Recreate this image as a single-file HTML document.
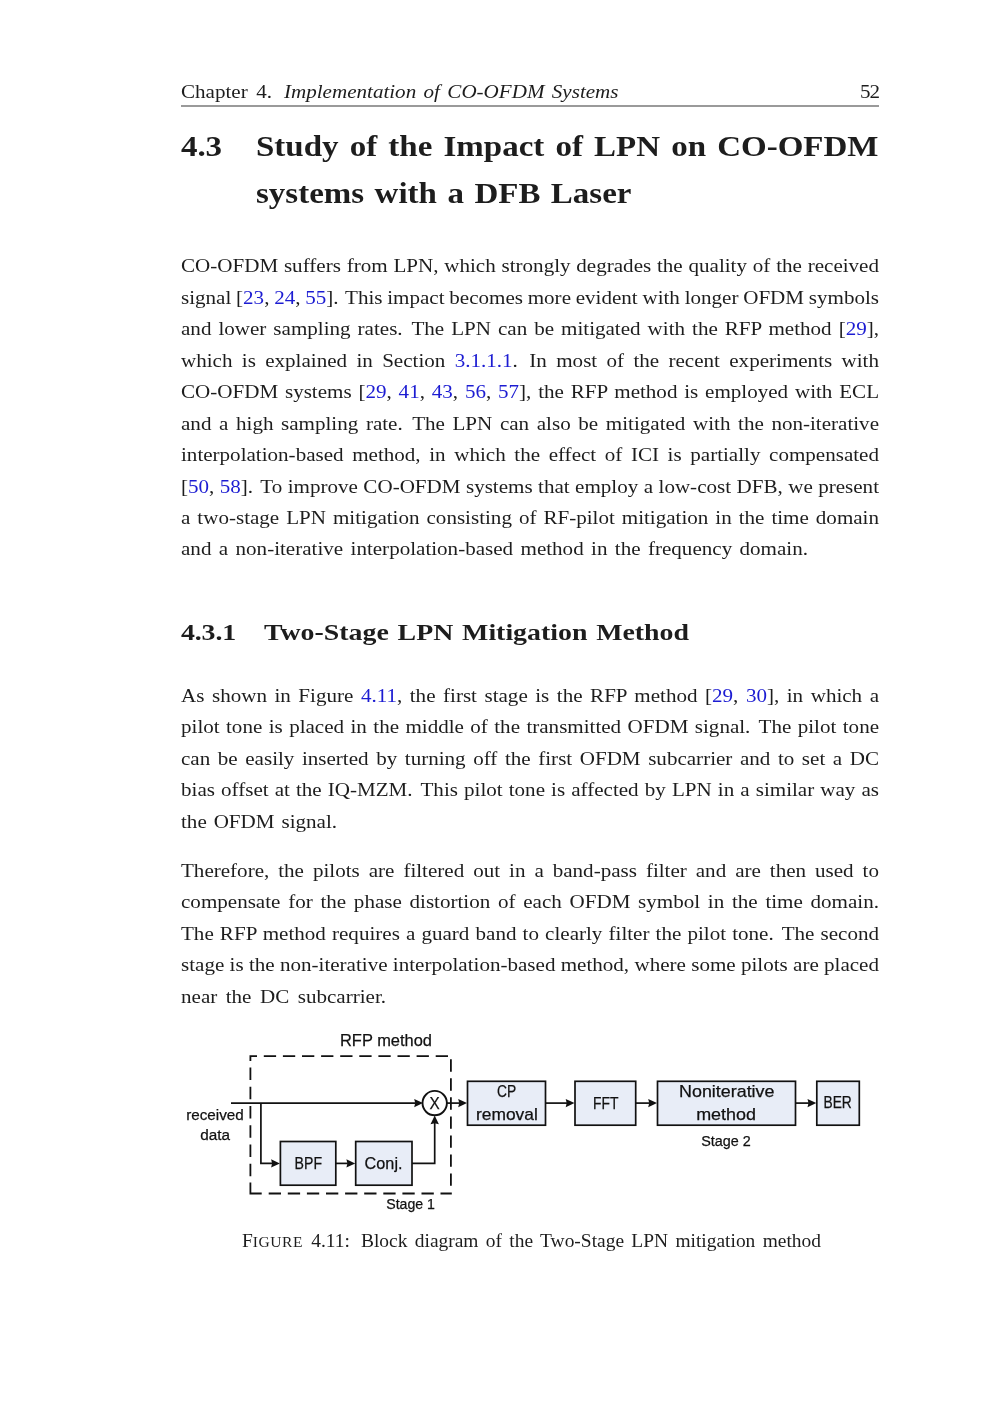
<!DOCTYPE html>
<html><head><meta charset="utf-8"><title>page 52</title>
<style>
html,body{margin:0;padding:0;background:#fff;}
body{width:1000px;height:1414px;position:relative;overflow:hidden;font-family:"Liberation Serif",serif;color:#1d1d1d;}
.l{position:absolute;white-space:nowrap;transform-origin:0 0;will-change:transform;}
.b{font-weight:bold;}
.i{font-style:italic;}
.c{color:#1c1cd2;}
.sc{font-size:0.8em;letter-spacing:0.5px;}
.s{display:inline-block;width:2px;}
.rule{position:absolute;left:181px;top:105.3px;width:698px;height:1.6px;background:#9a9a9a;}
svg{position:absolute;left:0;top:0;}
svg text{font-family:"Liberation Sans",sans-serif;fill:#111;}
</style></head><body>

<div class="l" style="top:77.92px;left:181px;font-size:19.5px;line-height:27px;height:27px;transform:scaleX(1.08);word-spacing:3.025px;">Chapter 4.</div>
<div class="l i" style="top:77.92px;left:283.5px;font-size:19.5px;line-height:27px;height:27px;transform:scaleX(1.08);word-spacing:1.965px;">Implementation of CO-OFDM Systems</div>
<div class="l" style="top:77.92px;left:860px;font-size:19.5px;line-height:27px;height:27px;transform:scaleX(1.08);letter-spacing:-0.954px;">52</div>
<div class="rule"></div>
<div class="l b" style="top:124.88px;left:181px;font-size:30.0px;line-height:42px;height:42px;transform:scaleX(1.1);letter-spacing:-0.076px;">4.3</div>
<div class="l b" style="top:124.88px;left:256px;font-size:30.0px;line-height:42px;height:42px;transform:scaleX(1.1);word-spacing:2.630px;">Study of the Impact of LPN on CO-OFDM</div>
<div class="l b" style="top:171.88px;left:256px;font-size:30.0px;line-height:42px;height:42px;transform:scaleX(1.1);word-spacing:2.013px;">systems with a DFB Laser</div>
<div class="l" style="top:252.32px;left:181px;font-size:19.5px;line-height:27px;height:27px;transform:scaleX(1.08);word-spacing:0.496px;">CO-OFDM suffers from LPN, which strongly degrades the quality of the received</div>
<div class="l" style="top:283.82px;left:181px;font-size:19.5px;line-height:27px;height:27px;transform:scaleX(1.08);word-spacing:-0.486px;">signal [<span class="c">23</span>, <span class="c">24</span>, <span class="c">55</span>].<span class="s"></span> This impact becomes more evident with longer OFDM symbols</div>
<div class="l" style="top:315.22px;left:181px;font-size:19.5px;line-height:27px;height:27px;transform:scaleX(1.08);word-spacing:1.609px;">and lower sampling rates.<span class="s"></span> The LPN can be mitigated with the RFP method [<span class="c">29</span>],</div>
<div class="l" style="top:346.72px;left:181px;font-size:19.5px;line-height:27px;height:27px;transform:scaleX(1.08);word-spacing:3.777px;">which is explained in Section <span class="c">3.1.1.1</span>.<span class="s"></span> In most of the recent experiments with</div>
<div class="l" style="top:378.12px;left:181px;font-size:19.5px;line-height:27px;height:27px;transform:scaleX(1.08);word-spacing:1.436px;">CO-OFDM systems [<span class="c">29</span>, <span class="c">41</span>, <span class="c">43</span>, <span class="c">56</span>, <span class="c">57</span>], the RFP method is employed with ECL</div>
<div class="l" style="top:409.62px;left:181px;font-size:19.5px;line-height:27px;height:27px;transform:scaleX(1.08);word-spacing:2.184px;">and a high sampling rate.<span class="s"></span> The LPN can also be mitigated with the non-iterative</div>
<div class="l" style="top:441.02px;left:181px;font-size:19.5px;line-height:27px;height:27px;transform:scaleX(1.08);word-spacing:3.097px;">interpolation-based method, in which the effect of ICI is partially compensated</div>
<div class="l" style="top:472.52px;left:181px;font-size:19.5px;line-height:27px;height:27px;transform:scaleX(1.08);word-spacing:0.169px;">[<span class="c">50</span>, <span class="c">58</span>].<span class="s"></span> To improve CO-OFDM systems that employ a low-cost DFB, we present</div>
<div class="l" style="top:503.92px;left:181px;font-size:19.5px;line-height:27px;height:27px;transform:scaleX(1.08);word-spacing:1.588px;">a two-stage LPN mitigation consisting of RF-pilot mitigation in the time domain</div>
<div class="l" style="top:535.42px;left:181px;font-size:19.5px;line-height:27px;height:27px;transform:scaleX(1.08);word-spacing:1.972px;">and a non-iterative interpolation-based method in the frequency domain.</div>
<div class="l b" style="top:614.90px;left:181px;font-size:24.0px;line-height:34px;height:34px;transform:scaleX(1.16);letter-spacing:-0.117px;">4.3.1</div>
<div class="l b" style="top:614.90px;left:264px;font-size:24.0px;line-height:34px;height:34px;transform:scaleX(1.16);word-spacing:1.616px;">Two-Stage LPN Mitigation Method</div>
<div class="l" style="top:681.92px;left:181px;font-size:19.5px;line-height:27px;height:27px;transform:scaleX(1.08);word-spacing:2.095px;">As shown in Figure <span class="c">4.11</span>, the first stage is the RFP method [<span class="c">29</span>, <span class="c">30</span>], in which a</div>
<div class="l" style="top:713.42px;left:181px;font-size:19.5px;line-height:27px;height:27px;transform:scaleX(1.08);word-spacing:1.056px;">pilot tone is placed in the middle of the transmitted OFDM signal.<span class="s"></span> The pilot tone</div>
<div class="l" style="top:744.82px;left:181px;font-size:19.5px;line-height:27px;height:27px;transform:scaleX(1.08);word-spacing:2.134px;">can be easily inserted by turning off the first OFDM subcarrier and to set a DC</div>
<div class="l" style="top:776.32px;left:181px;font-size:19.5px;line-height:27px;height:27px;transform:scaleX(1.08);word-spacing:0.768px;">bias offset at the IQ-MZM.<span class="s"></span> This pilot tone is affected by LPN in a similar way as</div>
<div class="l" style="top:807.72px;left:181px;font-size:19.5px;line-height:27px;height:27px;transform:scaleX(1.08);word-spacing:1.535px;">the OFDM signal.</div>
<div class="l" style="top:856.92px;left:181px;font-size:19.5px;line-height:27px;height:27px;transform:scaleX(1.08);word-spacing:3.427px;">Therefore, the pilots are filtered out in a band-pass filter and are then used to</div>
<div class="l" style="top:888.42px;left:181px;font-size:19.5px;line-height:27px;height:27px;transform:scaleX(1.08);word-spacing:2.273px;">compensate for the phase distortion of each OFDM symbol in the time domain.</div>
<div class="l" style="top:919.82px;left:181px;font-size:19.5px;line-height:27px;height:27px;transform:scaleX(1.08);word-spacing:0.802px;">The RFP method requires a guard band to clearly filter the pilot tone.<span class="s"></span> The second</div>
<div class="l" style="top:951.32px;left:181px;font-size:19.5px;line-height:27px;height:27px;transform:scaleX(1.08);word-spacing:0.030px;">stage is the non-iterative interpolation-based method, where some pilots are placed</div>
<div class="l" style="top:982.72px;left:181px;font-size:19.5px;line-height:27px;height:27px;transform:scaleX(1.08);word-spacing:2.990px;">near the DC subcarrier.</div>
<div class="l" style="top:1228.52px;left:242.0px;font-size:18.0px;line-height:25px;height:25px;transform:scaleX(1.08);word-spacing:3.172px;">F<span class="sc">IGURE</span> 4.11:</div>
<div class="l" style="top:1228.52px;left:360.8px;font-size:18.0px;line-height:25px;height:25px;transform:scaleX(1.08);word-spacing:2.297px;">Block diagram of the Two-Stage LPN mitigation method</div>
<svg width="1000" height="1414" viewBox="0 0 1000 1414">
<g fill="none" stroke="#111" stroke-width="1.7">
<path d="M249.5,1056.1H257.0M263.8,1056.1H276.1M282.9,1056.1H295.2M302.0,1056.1H314.3M321.1,1056.1H333.4M340.2,1056.1H352.5M359.3,1056.1H371.6M378.4,1056.1H390.7M397.5,1056.1H409.8M416.6,1056.1H428.9M435.7,1056.1H448.0M450.9,1059.3V1071.7M450.9,1078.3V1090.7M450.9,1097.3V1109.7M450.9,1116.4V1128.8M450.9,1135.4V1147.8M450.9,1154.4V1166.8M450.9,1173.4V1185.8M450.9,1192.4V1194.4M440.5,1193.5H451.8M421.5,1193.5H433.8M402.4,1193.5H414.7M383.3,1193.5H395.6M364.2,1193.5H376.5M345.1,1193.5H357.4M326.0,1193.5H338.3M306.9,1193.5H319.2M287.8,1193.5H300.1M268.7,1193.5H281.0M249.5,1193.5H261.7M250.4,1055.2V1060.9M250.4,1067.6V1080.0M250.4,1086.8V1099.2M250.4,1106.1V1118.5M250.4,1125.3V1137.8M250.4,1144.6V1157.0M250.4,1163.8V1176.2M250.4,1182.6V1194.4" stroke-width="1.8"/>
<g fill="#e8edf7">
<rect x="280.4" y="1141.5" width="55.4" height="43.7"/>
<rect x="355.7" y="1141.5" width="56.3" height="43.7"/>
<rect x="467.5" y="1081.3" width="78" height="43.9"/>
<rect x="575" y="1081.3" width="60.7" height="43.9"/>
<rect x="657.5" y="1081.3" width="138" height="43.9"/>
<rect x="816.8" y="1081.3" width="42.5" height="43.9"/>
</g>
<circle cx="434.7" cy="1103.1" r="12.2" fill="#fff" stroke-width="1.9"/>
<path d="M231,1103.1H415.7"/>
<polygon stroke="none" fill="#111" points="423.0,1103.1 414.2,1098.9 415.2,1103.1 414.2,1107.3"/>
<path d="M260.9,1103.1V1163.4H272.6"/>
<polygon stroke="none" fill="#111" points="279.9,1163.4 271.1,1159.2 272.1,1163.4 271.1,1167.6"/>
<path d="M335.8,1163.4H347.9"/>
<polygon stroke="none" fill="#111" points="355.2,1163.4 346.4,1159.2 347.4,1163.4 346.4,1167.6"/>
<path d="M412,1163.4H434.7V1122.8"/>
<polygon stroke="none" fill="#111" points="434.7,1115.5 430.5,1124.3 434.7,1123.3 438.9,1124.3"/>
<path d="M446.7,1103.1H459.7"/>
<polygon stroke="none" fill="#111" points="467.0,1103.1 458.2,1098.9 459.2,1103.1 458.2,1107.3"/>
<path d="M545.5,1103.1H567.2"/>
<polygon stroke="none" fill="#111" points="574.5,1103.1 565.7,1098.9 566.7,1103.1 565.7,1107.3"/>
<path d="M635.7,1103.1H649.7"/>
<polygon stroke="none" fill="#111" points="657.0,1103.1 648.2,1098.9 649.2,1103.1 648.2,1107.3"/>
<path d="M795.5,1103.1H809.0"/>
<polygon stroke="none" fill="#111" points="816.3,1103.1 807.5,1098.9 808.5,1103.1 807.5,1107.3"/>
</g>
<g>
<text stroke="#111" stroke-width="0.25" x="340" y="1046.3" font-size="17" textLength="92.0" lengthAdjust="spacingAndGlyphs">RFP method</text>
<text stroke="#111" stroke-width="0.25" x="186.2" y="1119.5" font-size="15.5" textLength="57.6" lengthAdjust="spacingAndGlyphs">received</text>
<text stroke="#111" stroke-width="0.25" x="200.2" y="1139.5" font-size="15.5" textLength="29.8" lengthAdjust="spacingAndGlyphs">data</text>
<text stroke="#111" stroke-width="0.25" x="294.6" y="1168.8" font-size="17" textLength="27.4" lengthAdjust="spacingAndGlyphs">BPF</text>
<text stroke="#111" stroke-width="0.25" x="364.6" y="1168.8" font-size="17" textLength="37.9" lengthAdjust="spacingAndGlyphs">Conj.</text>
<text stroke="#111" stroke-width="0.25" x="429.6" y="1108.6" font-size="16.5" textLength="10.2" lengthAdjust="spacingAndGlyphs">X</text>
<text stroke="#111" stroke-width="0.25" x="497" y="1097" font-size="17" textLength="19.2" lengthAdjust="spacingAndGlyphs">CP</text>
<text stroke="#111" stroke-width="0.25" x="476" y="1119.5" font-size="17" textLength="61.8" lengthAdjust="spacingAndGlyphs">removal</text>
<text stroke="#111" stroke-width="0.25" x="593" y="1108.6" font-size="17" textLength="25.4" lengthAdjust="spacingAndGlyphs">FFT</text>
<text stroke="#111" stroke-width="0.25" x="679" y="1097" font-size="17" textLength="95.5" lengthAdjust="spacingAndGlyphs">Noniterative</text>
<text stroke="#111" stroke-width="0.25" x="696.2" y="1120" font-size="17" textLength="59.8" lengthAdjust="spacingAndGlyphs">method</text>
<text stroke="#111" stroke-width="0.25" x="823.5" y="1108.4" font-size="17" textLength="28.3" lengthAdjust="spacingAndGlyphs">BER</text>
<text stroke="#111" stroke-width="0.25" x="386.2" y="1208.8" font-size="15.2" textLength="48.8" lengthAdjust="spacingAndGlyphs">Stage 1</text>
<text stroke="#111" stroke-width="0.25" x="701.2" y="1146" font-size="15.2" textLength="49.6" lengthAdjust="spacingAndGlyphs">Stage 2</text>
</g>
</svg>
</body></html>
